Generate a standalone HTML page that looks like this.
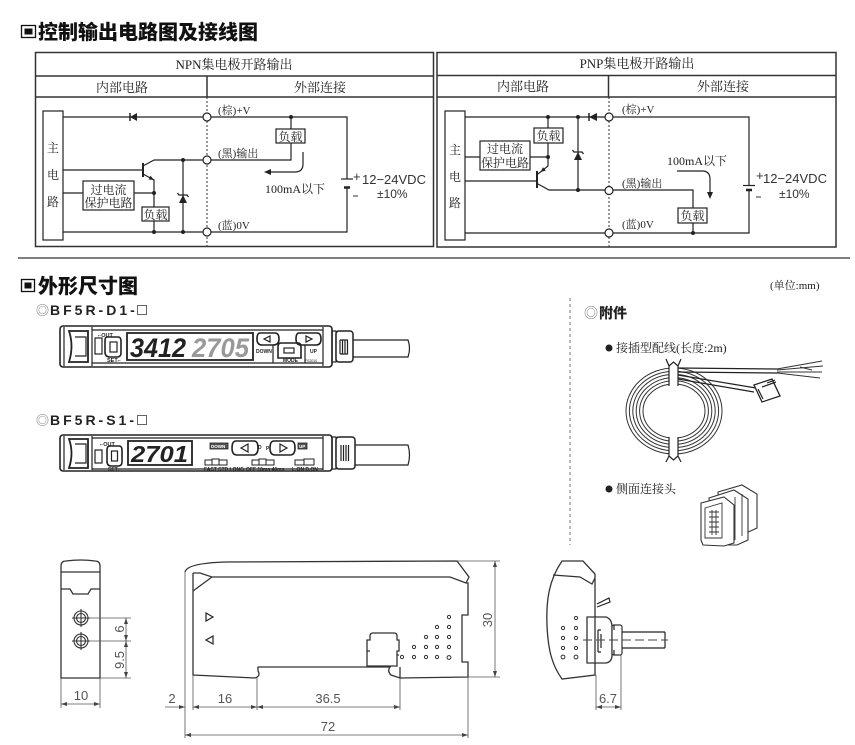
<!DOCTYPE html>
<html><head><meta charset="utf-8"><style>
html,body{margin:0;padding:0;background:#fff}
svg{display:block}
.l{fill:none;stroke:#222;stroke-width:1.2}
.o{fill:none;stroke:#333;stroke-width:1.3}
.tb{fill:none;stroke:#333;stroke-width:1.5}
.d{fill:none;stroke:#555;stroke-width:0.8}
.sr{font-family:"Liberation Serif","Noto Serif CJK SC",serif;fill:#222}
.ss{font-family:"Liberation Sans","Noto Sans CJK SC",sans-serif;fill:#333}
.dn{font-family:"Liberation Sans",sans-serif;font-size:13px;fill:#555}
.tt{font-family:"Liberation Sans",sans-serif;font-weight:bold;fill:#222}
.bx{fill:#fff;stroke:#222;stroke-width:1.2}
</style></head><body>
<svg width="855" height="745" viewBox="0 0 855 745" xmlns="http://www.w3.org/2000/svg">
<rect width="855" height="745" fill="#fff"/>

<!-- ===== Title 1 ===== -->
<rect x="21.5" y="25.5" width="14" height="12" fill="none" stroke="#111" stroke-width="1.3"/>
<rect x="24.5" y="28.5" width="8" height="6" fill="#111"/>
<text x="38" y="39" font-family="Noto Sans CJK SC,sans-serif" font-weight="900" font-size="20" fill="#111">控制输出电路图及接线图</text>

<!-- ===== NPN table ===== -->
<rect class="tb" x="35.5" y="52.5" width="398" height="194"/>
<path class="tb" d="M35.5 76H433.5M35.5 97H433.5M207 76V97"/>
<path d="M207 97V247" stroke="#333" stroke-width="1" stroke-dasharray="2 2"/>
<text class="sr" x="234" y="69" font-size="13" text-anchor="middle">NPN集电极开路输出</text>
<text class="sr" x="122" y="92" font-size="13" text-anchor="middle">内部电路</text>
<text class="sr" x="320" y="92" font-size="13" text-anchor="middle">外部连接</text>

<rect class="l" x="43" y="111" width="20" height="129"/>
<text class="sr" font-size="12" x="53" y="152" text-anchor="middle">主</text>
<text class="sr" font-size="12" x="53" y="179" text-anchor="middle">电</text>
<text class="sr" font-size="12" x="53" y="206" text-anchor="middle">路</text>

<path class="l" d="M63 117H347V179M347 188V232H63"/>
<path d="M341 179H353" stroke="#222" stroke-width="1.2"/>
<path d="M344 187.5H350" stroke="#222" stroke-width="2.5"/>
<polygon points="130,117 137,113 137,121" fill="#222"/>
<path d="M130 113V121" stroke="#222" stroke-width="1.5"/>
<path class="l" d="M154 160H291V143M291 117V129"/>
<rect class="bx" x="276" y="129" width="29" height="14"/>
<text class="sr" font-size="12" x="290.5" y="141" text-anchor="middle">负载</text>
<!-- transistor -->
<path d="M143 163V177" stroke="#222" stroke-width="2"/>
<path class="l" d="M63 170H143M143 166L154 160M143 174L154 180V207M154 221V232"/>
<polygon points="154,180 148.6,179.5 150.6,175.7" fill="#222"/>
<path class="l" d="M63 193H83M134 193H154"/>
<rect class="bx" x="83" y="181" width="51" height="29"/>
<text class="sr" font-size="12" x="108.5" y="194" text-anchor="middle">过电流</text>
<text class="sr" font-size="12" x="108.5" y="207" text-anchor="middle">保护电路</text>
<rect class="bx" x="142" y="207" width="27" height="14"/>
<text class="sr" font-size="12" x="155.5" y="219" text-anchor="middle">负载</text>
<!-- zener -->
<path class="l" d="M183 160V232"/>
<polygon points="183,195 179,203 187,203" fill="#222"/>
<path d="M177.5 193L179 195H187L188.5 197" fill="none" stroke="#222" stroke-width="1.3"/>
<g fill="#222"><circle cx="183" cy="160" r="2"/><circle cx="183" cy="232" r="2"/><circle cx="154" cy="193" r="2"/><circle cx="154" cy="232" r="2"/><circle cx="291" cy="117" r="2"/></g>
<g fill="#fff" stroke="#222" stroke-width="1.2"><circle cx="207" cy="117" r="4"/><circle cx="207" cy="160" r="4"/><circle cx="207" cy="232" r="4"/></g>
<text class="sr" font-size="11" x="218" y="114">(棕)+V</text>
<text class="sr" font-size="11" x="218" y="157">(黑)输出</text>
<text class="sr" font-size="11" x="218" y="229">(蓝)0V</text>
<path class="l" d="M303 152V164Q303 172 295 172H270"/>
<polygon points="264,172 271,169 271,175" fill="#222"/>
<text class="sr" font-size="12" x="265" y="193">100mA以下</text>
<text class="ss" font-size="13" x="353" y="181">+</text>
<text class="ss" font-size="13" x="362" y="184">12−24VDC</text>
<path d="M353 196H358" stroke="#333" stroke-width="1"/>
<text class="ss" font-size="12" x="377" y="198">±10%</text>

<!-- ===== PNP table ===== -->
<rect class="tb" x="437" y="52.5" width="399" height="194.5"/>
<path class="tb" d="M437 75.5H836M437 97H836M608.5 75.5V97"/>
<path d="M609 97V247" stroke="#333" stroke-width="1" stroke-dasharray="2 2"/>
<text class="sr" x="637" y="68" font-size="13" text-anchor="middle">PNP集电极开路输出</text>
<text class="sr" x="523" y="91" font-size="13" text-anchor="middle">内部电路</text>
<text class="sr" x="723" y="91" font-size="13" text-anchor="middle">外部连接</text>

<rect class="l" x="445" y="111" width="20" height="129"/>
<text class="sr" font-size="12" x="455" y="154" text-anchor="middle">主</text>
<text class="sr" font-size="12" x="455" y="181" text-anchor="middle">电</text>
<text class="sr" font-size="12" x="455" y="207" text-anchor="middle">路</text>

<path class="l" d="M465 117H749V186M749 189V233H465"/>
<path d="M743 185.5H755" stroke="#222" stroke-width="1.2"/>
<path d="M746 190H752" stroke="#222" stroke-width="2.5"/>
<polygon points="589,117 597,113 597,121" fill="#222"/>
<path d="M589 113V121" stroke="#222" stroke-width="1.5"/>
<path class="l" d="M548 117V128M548 143V166L538 174M538 184L549 190H693V208M693 223V233"/>
<path d="M537 171V188" stroke="#222" stroke-width="2"/>
<path class="l" d="M465 181H537"/>
<polygon points="540.5,172 545.8,170.6 543,167.2" fill="#222"/>
<rect class="bx" x="534" y="128" width="29" height="15"/>
<text class="sr" font-size="12" x="548.5" y="140" text-anchor="middle">负载</text>
<path class="l" d="M465 157H480M530 157H548"/>
<rect class="bx" x="480" y="141" width="50" height="29"/>
<text class="sr" font-size="12" x="505" y="153" text-anchor="middle">过电流</text>
<text class="sr" font-size="12" x="505" y="167" text-anchor="middle">保护电路</text>
<path class="l" d="M578 117V190"/>
<polygon points="578,152 574,160 582,160" fill="#222"/>
<path d="M572.5 150L574 152H582L583.5 154" fill="none" stroke="#222" stroke-width="1.3"/>
<rect class="bx" x="678" y="208" width="29" height="15"/>
<text class="sr" font-size="12" x="692.5" y="220" text-anchor="middle">负载</text>
<g fill="#222"><circle cx="548" cy="117" r="2"/><circle cx="578" cy="117" r="2"/><circle cx="548" cy="157" r="2"/><circle cx="578" cy="190" r="2"/><circle cx="693" cy="233" r="2"/></g>
<g fill="#fff" stroke="#222" stroke-width="1.2"><circle cx="609" cy="117" r="4"/><circle cx="609" cy="190.5" r="4"/><circle cx="609" cy="233" r="4"/></g>
<text class="sr" font-size="11" x="622" y="113">(棕)+V</text>
<text class="sr" font-size="11" x="622" y="187">(黑)输出</text>
<text class="sr" font-size="11" x="622" y="228">(蓝)0V</text>
<text class="sr" font-size="12" x="667" y="165">100mA以下</text>
<path class="l" d="M677 171H702Q710 171 710 179V193"/>
<polygon points="710,199 707,192 713,192" fill="#222"/>
<text class="ss" font-size="13" x="756" y="180">+</text>
<text class="ss" font-size="13" x="763" y="183">12−24VDC</text>
<path d="M756 197H761" stroke="#333" stroke-width="1"/>
<text class="ss" font-size="12" x="779" y="198">±10%</text>

<!-- separator -->
<path d="M18 258H850" stroke="#555" stroke-width="1.5"/>

<!-- ===== Title 2 ===== -->
<rect x="21.5" y="279.5" width="13" height="12" fill="none" stroke="#111" stroke-width="1.3"/>
<rect x="24.5" y="282.5" width="7" height="6" fill="#111"/>
<text x="38" y="293" font-family="Noto Sans CJK SC,sans-serif" font-weight="900" font-size="20" fill="#111">外形尺寸图</text>
<text class="sr" font-size="11" x="770" y="289">(单位:mm)</text>

<!-- model labels -->
<text x="36" y="315" font-family="Noto Sans CJK SC,sans-serif" font-size="13" fill="#777">◎</text>
<text class="tt" x="50" y="315" font-size="14" letter-spacing="3">BF5R-D1-</text>
<rect x="137.5" y="305.5" width="9" height="9" fill="none" stroke="#666" stroke-width="1"/>
<text x="36" y="425" font-family="Noto Sans CJK SC,sans-serif" font-size="13" fill="#777">◎</text>
<text class="tt" x="50" y="425" font-size="14" letter-spacing="3">BF5R-S1-</text>
<rect x="137.5" y="415.5" width="9" height="9" fill="none" stroke="#666" stroke-width="1"/>

<!-- ===== Device D1 ===== -->
<rect x="60" y="326" width="272" height="41" rx="3" fill="#fff" stroke="#222" stroke-width="1.6"/>
<path class="l" d="M64 327V366M92 327V366M92 330H323M92 363H323M323 327V366"/>
<path d="M69 331H88V362H69Q74 346 69 331Z" fill="none" stroke="#222" stroke-width="1.8"/>
<path class="l" d="M75 337H86V356H75"/>
<rect class="l" x="95" y="338" width="7" height="16"/>
<path d="M107 337H118Q121 337 121 341V353Q121 357 117 357H110Q105 357 105 352V341Q105 337 107 337Z" fill="none" stroke="#222" stroke-width="1.6"/>
<rect class="l" x="110" y="342" width="7" height="10"/>
<text x="98" y="337" font-family="Liberation Sans,sans-serif" font-weight="bold" font-size="5.5" fill="#222">⌐OUT</text>
<text x="107" y="362" font-family="Liberation Sans,sans-serif" font-weight="bold" font-size="5.5" fill="#222">SET⌐</text>
<rect x="127" y="333" width="126" height="27" fill="none" stroke="#222" stroke-width="1.8"/>
<text x="130" y="357" font-family="Liberation Sans,sans-serif" font-size="27" font-weight="bold" fill="#222" textLength="56" lengthAdjust="spacingAndGlyphs" font-style="italic">3412</text>
<text x="192" y="357" font-family="Liberation Sans,sans-serif" font-size="27" font-weight="bold" fill="#999" textLength="57" lengthAdjust="spacingAndGlyphs" font-style="italic">2705</text>
<path d="M260 333H275Q279 333 279 339Q279 345 273 345H262Q257 345 257 339Q257 333 260 333Z" fill="none" stroke="#222" stroke-width="1.6"/>
<path class="l" d="M264 339L270 336V342Z"/>
<path d="M299 333H317Q321 333 321 339Q321 345 316 345H301Q296 345 296 339Q296 333 299 333Z" fill="none" stroke="#222" stroke-width="1.6"/>
<path class="l" d="M312 339L306 336V342Z"/>
<path d="M281 343H298Q301 343 301 347V358H278V347Q278 343 281 343Z" fill="none" stroke="#222" stroke-width="1.6"/>
<rect class="l" x="284" y="348" width="10" height="5"/>
<path class="l" d="M273 345V363M305 345V363"/>
<text x="256" y="353" font-family="Liberation Sans,sans-serif" font-weight="bold" font-size="5" fill="#222">DOWN</text>
<text x="283" y="362" font-family="Liberation Sans,sans-serif" font-weight="bold" font-size="5" fill="#222">MODE</text>
<text x="310" y="353" font-family="Liberation Sans,sans-serif" font-weight="bold" font-size="5" fill="#222">UP</text>
<text x="305" y="362" font-family="Liberation Sans,sans-serif" font-size="3.5" fill="#222">FS2010</text>
<rect class="l" x="332" y="331" width="4" height="31"/>
<rect x="336" y="331" width="17" height="31" rx="3" fill="#fff" stroke="#222" stroke-width="1.5"/>
<path class="l" d="M340 340V354M342.5 340V354M345 340V354M347.5 340V354M340 340H348M340 354H348"/>
<path class="l" d="M353 340H408Q411 348 408 357H353"/>

<!-- ===== Device S1 ===== -->
<rect x="60" y="435" width="272" height="36" rx="3" fill="#fff" stroke="#222" stroke-width="1.6"/>
<path class="l" d="M64 436V470M92 436V470M92 438H323M92 469H323M323 436V470"/>
<path d="M69 439H88V468H69Q74 453 69 439Z" fill="none" stroke="#222" stroke-width="1.8"/>
<path class="l" d="M75 444H86V463H75"/>
<rect class="l" x="95" y="450" width="7" height="13"/>
<path d="M110 446H119Q122 446 122 450V462Q122 466 118 466H111Q107 466 107 461V450Q107 446 110 446Z" fill="none" stroke="#222" stroke-width="1.6"/>
<rect class="l" x="111.5" y="451" width="6" height="10"/>
<text x="100" y="446" font-family="Liberation Sans,sans-serif" font-weight="bold" font-size="5.5" fill="#222">⌐OUT</text>
<text x="108" y="471" font-family="Liberation Sans,sans-serif" font-weight="bold" font-size="5" fill="#222">SET⌐</text>
<rect x="128" y="441" width="64" height="24" fill="none" stroke="#222" stroke-width="1.8"/>
<text x="131" y="462" font-family="Liberation Sans,sans-serif" font-size="23" font-weight="bold" fill="#222" textLength="57" lengthAdjust="spacingAndGlyphs" font-style="italic">2701</text>
<rect x="210" y="443" width="18" height="6" fill="#555" stroke="#222" stroke-width="0.8"/>
<text x="211" y="448" font-family="Liberation Sans,sans-serif" font-weight="bold" font-size="4.5" fill="#fff">DOWN</text>
<path d="M236 441H254Q258 441 258 448Q258 455 253 455H237Q232 455 232 448Q232 441 236 441Z" fill="none" stroke="#222" stroke-width="1.6"/>
<path class="l" d="M241 448L248 444V452Z"/>
<path d="M274 441H291Q295 441 295 448Q295 455 290 455H275Q270 455 270 448Q270 441 274 441Z" fill="none" stroke="#222" stroke-width="1.6"/>
<path class="l" d="M287 448L280 444V452Z"/>
<text x="258" y="449" font-family="Liberation Sans,sans-serif" font-weight="bold" font-size="5" fill="#222">D</text>
<text x="266" y="450" font-family="Liberation Sans,sans-serif" font-weight="bold" font-size="5" fill="#222">P</text>
<rect x="298" y="443" width="9" height="6" fill="#555" stroke="#222" stroke-width="0.8"/>
<text x="299" y="448" font-family="Liberation Sans,sans-serif" font-weight="bold" font-size="4.5" fill="#fff">UP</text>
<g fill="none" stroke="#222" stroke-width="1">
<rect x="205" y="460" width="7" height="5"/><rect x="212" y="459" width="7" height="6"/><rect x="219" y="460" width="8" height="5"/>
<rect x="252" y="460" width="7" height="5"/><rect x="259" y="459" width="7" height="6"/><rect x="266" y="460" width="8" height="5"/>
<rect x="295" y="460" width="9" height="5"/><rect x="304" y="459" width="10" height="6"/>
</g>
<g font-family="Liberation Sans,sans-serif" font-weight="bold" font-size="5" fill="#222">
<text x="204" y="471">FAST STD LONG</text>
<text x="246" y="471">OFF 10ms 40ms</text>
<text x="292" y="471">L.ON  D.ON</text>
</g>
<rect class="l" x="332" y="437" width="4" height="32"/>
<rect x="336" y="437" width="19" height="32" rx="3" fill="#fff" stroke="#222" stroke-width="1.5"/>
<path class="l" d="M341 445V461M343.5 445V461M346 445V461M348.5 445V461"/>
<path class="l" d="M355 445H408Q411 455 408 465H355"/>

<!-- ===== Accessories ===== -->
<path d="M570 298V545" stroke="#777" stroke-width="1" stroke-dasharray="3 3"/>
<text x="584" y="318" font-family="Noto Sans CJK SC,sans-serif" font-size="14" fill="#777">◎</text>
<text x="599" y="318" font-family="Noto Sans CJK SC,sans-serif" font-weight="900" font-size="14" fill="#222">附件</text>
<circle cx="609" cy="348" r="3.5" fill="#222"/>
<text class="sr" font-size="12" x="616" y="352">接插型配线(长度:2m)</text>
<g fill="none" stroke="#333" stroke-width="1">
<ellipse cx="674" cy="411" rx="48" ry="43"/>
<ellipse cx="674" cy="411" rx="44.6" ry="39.8"/>
<ellipse cx="674" cy="411" rx="41.2" ry="36.6"/>
<ellipse cx="674" cy="411" rx="37.8" ry="33.4"/>
<ellipse cx="674" cy="411" rx="34.4" ry="30.2"/>
<ellipse cx="674" cy="411" rx="31" ry="27"/>
</g>
<rect x="669" y="364" width="9" height="22" fill="#fff"/>
<rect x="669" y="437" width="9" height="22" fill="#fff"/>
<path class="l" d="M669 386V366L666 359M678 386V366L681 359M669 366L673.5 362L678 366"/>
<path class="l" d="M669 437V456L666 462M678 437V456L681 462M669 456L673.5 460L678 456"/>
<path class="l" d="M678 368L777 369M678 372L777 373"/>
<path fill="none" stroke="#333" stroke-width="1" d="M777 369L822 361M777 370L823 366M777 372L822 372M777 373L820 378M800 367L812 370"/>
<path class="l" d="M678 375L756 388M678 379L754 392"/>
<path d="M754 385L772 379L780 396L762 402Z" fill="#fff" stroke="#222" stroke-width="1.3"/>
<path class="l" d="M758 389L763 399M767 383L775 380M762 387L776 382"/>
<circle cx="609" cy="489" r="3.5" fill="#222"/>
<text class="sr" font-size="12" x="616" y="493">侧面连接头</text>
<g fill="#fff" stroke="#333" stroke-width="1.1">
<path d="M718 492L742 485L757 494L757 528L744 534L720 534Z"/>
<path d="M709 498L734 490L748 499L748 540L737 545L713 545Z"/>
<path d="M701 503L724 497L734 505L734 543L724 546L703 545L701 540Z"/>
</g>
<g fill="none" stroke="#333" stroke-width="0.9">
<path d="M705 508L722 503V538H705Z"/>
<path d="M709 512H719M709 517H719M709 522H719M709 527H719M709 532H719M712 510V535M716 510V535"/>
<path d="M735 497V540M742 494V536"/>
</g>

<!-- ===== Front view ===== -->
<path class="o" d="M61 678V566Q61 561 66 561Q81 559 95 561Q100 561 100 566V678Z" fill="#fff"/>
<path class="o" d="M61 572H100M61 589H70L73 594H88L91 589H100"/>
<g fill="none" stroke="#333" stroke-width="1.1">
<circle cx="81" cy="618" r="7"/><circle cx="81" cy="618" r="4.5"/>
<circle cx="81" cy="641" r="7"/><circle cx="81" cy="641" r="4.5"/>
<path d="M72 618H90M81 609V627M72 641H90M81 632V650"/>
</g>
<path class="d" d="M90 618H131M90 641H131M100 678H131M126 618V678M61 678V708M100 678V708M61 704H100"/>
<g fill="#444">
<polygon points="126,618 124,624 128,624"/><polygon points="126,641 124,635 128,635"/>
<polygon points="126,641 124,647 128,647"/><polygon points="126,678 124,672 128,672"/>
<polygon points="61,704 67,702 67,706"/><polygon points="100,704 94,702 94,706"/>
</g>
<text class="dn" transform="translate(124,629) rotate(-90)" text-anchor="middle">6</text>
<text class="dn" transform="translate(124,660) rotate(-90)" text-anchor="middle">9.5</text>
<text class="dn" x="81" y="700" text-anchor="middle">10</text>

<!-- ===== Side view ===== -->
<path class="o" d="M185 572Q187 563 227 562L457 561L469 577L466 583"/>
<path class="o" d="M193 573V675L255 678M193 573H200L212 577H450L466 583L468 583V615H462V662H468V677L400 678"/>
<path class="o" d="M193 591L212 577"/>
<path class="o" d="M255 678Q261 676 258 671L258 667H390Q387 671 391 675L400 678V667"/>
<path class="o" d="M367 666V640H370V636Q370 633 373 633H394Q397 633 397 636V640H399V651H397V666Z"/>
<path class="o" d="M367 651H370M397 655H399"/>
<path class="l" d="M206 613L213 617L206 621Z M213 636L206 640L213 644Z"/>
<g fill="#fff" stroke="#333" stroke-width="1">
<circle cx="449" cy="617" r="1.6"/>
<circle cx="437" cy="627" r="1.6"/><circle cx="449" cy="627" r="1.6"/>
<circle cx="426" cy="637" r="1.6"/><circle cx="437" cy="637" r="1.6"/><circle cx="449" cy="637" r="1.6"/>
<circle cx="414" cy="647" r="1.6"/><circle cx="426" cy="647" r="1.6"/><circle cx="437" cy="647" r="1.6"/><circle cx="449" cy="647" r="1.6"/>
<circle cx="402" cy="657" r="1.6"/><circle cx="414" cy="657" r="1.6"/><circle cx="426" cy="657" r="1.6"/><circle cx="437" cy="657" r="1.6"/><circle cx="449" cy="657.5" r="1.9"/>
</g>
<path class="d" d="M457 561H500M468 677H500M495 561V677M185 572V738M193 675V710M257 678V710M400 678V710M468 677V738M165 707H185M193 707H400M185 735H468"/>
<g fill="#444">
<polygon points="495,561 493,567 497,567"/><polygon points="495,677 493,671 497,671"/>
<polygon points="185,707 179,705 179,709"/>
<polygon points="193,707 199,705 199,709"/><polygon points="257,707 251,705 251,709"/>
<polygon points="257,707 263,705 263,709"/><polygon points="400,707 394,705 394,709"/>
<polygon points="185,735 191,733 191,737"/><polygon points="468,735 462,733 462,737"/>
</g>
<text class="dn" transform="translate(492,620) rotate(-90)" text-anchor="middle">30</text>
<text class="dn" x="172" y="703" text-anchor="middle">2</text>
<text class="dn" x="225" y="703" text-anchor="middle">16</text>
<text class="dn" x="328" y="703" text-anchor="middle">36.5</text>
<text class="dn" x="328" y="731" text-anchor="middle">72</text>

<!-- ===== End view ===== -->
<path class="o" d="M562 561H583L595 574V675L562 679C552 665 548 650 547 625C546 600 549 580 562 561Z" fill="#fff"/>
<path class="o" d="M553 575L580 577L592 584L595 578"/>
<path class="l" d="M597 604L609 598L610 602L597 607"/>
<path class="o" d="M587 617H606Q612 619 612 627V655Q612 662 606 663H587Z" fill="#fff"/>
<path class="l" d="M598 630V652M601 634V648M598 630H601M598 652H601"/>
<rect x="612" y="625" width="10" height="30" rx="2" fill="#fff" stroke="#333" stroke-width="1.2"/>
<path class="l" d="M614 625V630M614 650V655"/>
<path class="l" d="M622 632H665M622 648H665M665 632V648"/>
<path d="M583 640H668" stroke="#444" stroke-width="0.9" stroke-dasharray="9 4"/>
<g fill="#fff" stroke="#333" stroke-width="1">
<circle cx="576" cy="618" r="1.6"/>
<circle cx="563" cy="628" r="1.6"/><circle cx="576" cy="628" r="1.6"/>
<circle cx="563" cy="638" r="1.6"/><circle cx="576" cy="638" r="1.6"/>
<circle cx="563" cy="648" r="1.6"/><circle cx="576" cy="648" r="1.6"/>
<circle cx="563" cy="657" r="1.9"/><circle cx="576" cy="657" r="1.9"/>
</g>
<path class="d" d="M596 675V710M621 655V710M596 707H621"/>
<g fill="#444"><polygon points="596,707 602,705 602,709"/><polygon points="621,707 615,705 615,709"/></g>
<text class="dn" x="608" y="703" text-anchor="middle">6.7</text>
</svg>
</body></html>
